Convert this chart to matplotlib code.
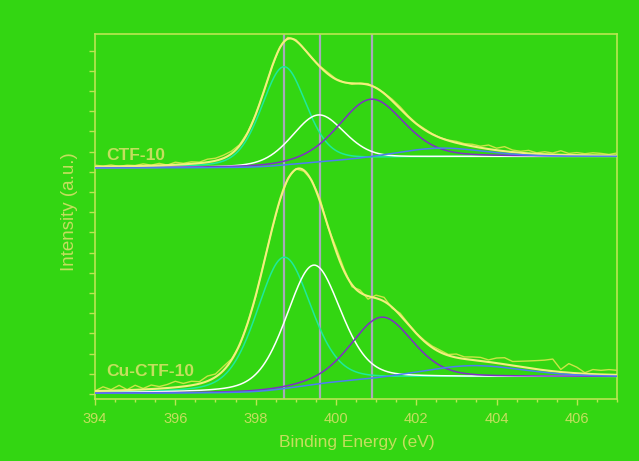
import numpy as np
import matplotlib
matplotlib.use('Agg')
import matplotlib.pyplot as plt

# N 1s fits, two samples stacked (intensity in arbitrary units)
samples = ['CTF-10', 'Cu-CTF-10']

# peak order: pyridinic-like, pyrrolic-like, graphitic-like, satellite
ctf_centers = [398.7, 399.56, 400.88, 402.6]
ctf_heights = [97.5, 47.0, 59.6, 9.0]
ctf_fwhm = [1.32, 1.55, 1.9, 2.6]
ctf_base = [223.8, 235.1]

cu_centers = [398.7, 399.44, 401.14, 403.4]
cu_heights = [130.4, 118.6, 62.0, 11.7]
cu_fwhm = [1.6, 1.6, 1.8, 3.0]
cu_base = [0.7, 17.1]

# raw-minus-fit residuals, read every 0.2 eV from 394 to 407
ctf_resid = [1.5, 0.5, 1.5, 0, 1, 0.5, 2, 0.5, 2, 0, 2.5, 1, 2, 1, 3, 2.5,
             3, 2.5, 1, 0.5, 0, -0.5, 0, 0.5, 1.5, 1, 0, -0.5, 0.5, 1.5, 0.5, 0,
             -1, 0.5, 1, 0, 0.5, 1.5, 2, 1, 0.5, 1, 0.5, 0, 0.5, 1.5, 1, 2,
             1.5, 4, 2, 4.5, 2, 1.5, 3, 1, 2.5, 1.5, 4, 1.5, 2.5, 1.5, 2.5, 2,
             1, 2.5]
cu_resid = [0, 4, 1, 5, 0.5, 4.5, 1, 4, 2, 3.5, 6, 3, 4, 2, 5, 3,
            4, 1, -1, 0, -1, 0.5, 0, -0.5, 1, 0.5, -1, 1, 3, -1, 3.5, 2,
            -2, 2.5, -3, 3, 4, -1, 2, 1, 0.5, 1, 1.5, 2, 1, 3.5, 2, 3,
            3.5, 2, 5, 6.5, 4, 5.5, 7, 8.5, 10, 12, 2.5, 9, 6, 1, 4.5, 4,
            5, 4.5]

ref_lines = [398.7, 399.6, 400.9]

bg_col = '#33d612'
fg_col = '#b9e652'
txt_col = '#c3df5e'
comp_cols = ['#1eea9c', '#ffffff', '#7f2fc6', '#4f7cf5']


def gl(x, c, h, w, m=0.3):
    t = ((x - c) / w) ** 2
    return h * ((1 - m) * np.exp(-4 * np.log(2) * t) + m / (1 + 4 * t))


def fit_curves(E, centers, heights, fwhm, base):
    comps = [gl(E, c, h, w) for c, h, w in zip(centers, heights, fwhm)]
    total = np.sum(comps, axis=0)
    cum = np.cumsum(total)
    bg = base[0] + (base[1] - base[0]) * cum / cum[-1]
    return comps, bg, bg + total


E = 394 + 0.02 * np.arange(651)
E_raw = E[::10]

fig = plt.figure(figsize=(6.39, 4.61), dpi=100, facecolor=bg_col)
ax = fig.add_axes([95 / 639, 62 / 461, 522 / 639, 365 / 461])
ax.set_facecolor(bg_col)

for vx in ref_lines:
    ax.axvline(vx, color='#a9a9b9', lw=1.6, zorder=1)

for centers, heights, fwhm, base, resid in [
        (ctf_centers, ctf_heights, ctf_fwhm, ctf_base, ctf_resid),
        (cu_centers, cu_heights, cu_fwhm, cu_base, cu_resid)]:
    comps, bg, env = fit_curves(E, centers, heights, fwhm, base)
    raw = env[::10] + np.array(resid)
    ax.plot(E_raw, raw, color='#c9e646', lw=1.0, zorder=2)
    for k in range(3):
        ax.plot(E, bg + comps[k], color=comp_cols[k], lw=1.1, zorder=3)
    ax.plot(E, env, color='#f2f07e', lw=1.5, zorder=4)
    ax.plot(E, bg + comps[3], color=comp_cols[3], lw=1.1, zorder=5)

ax.text(394.29, 236.5, samples[0], color=txt_col, fontsize=12.5,
        fontweight='bold', family='Liberation Sans', va='center', ha='left')
ax.text(394.29, 22.5, samples[1], color=txt_col, fontsize=12.5,
        fontweight='bold', family='Liberation Sans', va='center', ha='left')

ax.set_xlim(394, 407)
ax.set_ylim(-4.95, 356.4)
ax.set_xticks(np.arange(394, 407, 2))
ax.set_xticks(np.arange(394, 407.01, 0.5), minor=True)
ax.set_yticks(np.arange(0, 341, 20))
ax.tick_params(axis='x', which='major', direction='out', length=4, width=1,
               color=fg_col, labelcolor=txt_col, labelsize=10.5, pad=5)
ax.tick_params(axis='x', which='minor', direction='out', length=2.5, width=1,
               color=fg_col)
ax.tick_params(axis='y', direction='out', length=4.5, width=1, color=fg_col,
               labelleft=False)
for lab in ax.get_xticklabels():
    lab.set_family('Liberation Sans')
for sp in ax.spines.values():
    sp.set_color(fg_col)
    sp.set_linewidth(1.2)

fig.text(356.5 / 639, 1 - 442 / 461, 'Binding Energy (eV)', color=txt_col,
         fontsize=12.5, family='Liberation Sans', ha='center', va='center')
fig.text(70 / 639, 1 - 211.7 / 461, 'Intensity (a.u.)', color=txt_col,
         fontsize=13.5, family='Liberation Sans', ha='center', va='center',
         rotation=90)

fig.savefig('out.png', dpi=100, facecolor=bg_col)
